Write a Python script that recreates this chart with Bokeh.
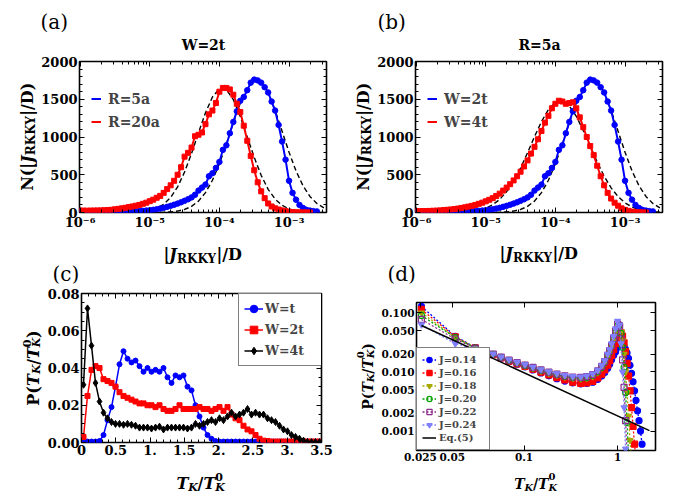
import math
from bokeh.plotting import figure
from bokeh.layouts import row, column
from bokeh.models import (FixedTicker, CustomJSTickFormatter, LinearAxis, LogAxis,
                          Label, Legend, LegendItem, Range1d)
from bokeh.embed import file_html
from bokeh.resources import INLINE

FONT = "DejaVu Serif"

# ---------------- data ----------------
JX = [10 ** (-6 + 0.05 * i) for i in range(71)]
FX = [10 ** (-6 + 0.1 * i) for i in range(36)]

N_R5A_W2T = [3, 3, 3, 3, 4, 4, 4, 5, 5, 6,
             7, 8, 9, 10, 12, 14, 16, 19, 22, 26,
             30, 36, 43, 52, 62, 75, 88, 103, 118, 135,
             155, 175, 200, 235, 290, 330, 370, 480, 520, 590,
             670, 830, 890, 1050, 1200, 1340, 1480, 1530, 1620, 1720,
             1760, 1750, 1720, 1660, 1590, 1470, 1350, 1160, 940, 700,
             420, 260, 170, 100, 60, 35, 25, 18, 14]
N_R20A = [25, 25, 24, 25, 26, 27, 28, 30, 33, 36,
          42, 48, 55, 62, 72, 80, 90, 100, 115, 130,
          150, 170, 195, 220, 260, 310, 360, 420, 500, 600,
          740, 790, 860, 1010, 1030, 1060, 1170, 1300, 1350, 1450,
          1600, 1650, 1650, 1630, 1560, 1440, 1330, 1150, 950, 750,
          560, 400, 280, 190, 120, 80, 55, 40, 28, 18,
          10, 5, 3, 2, 1, 1, 0]
N_W4T = [18, 18, 19, 20, 21, 23, 25, 28, 32, 36,
         40, 45, 52, 60, 68, 78, 88, 100, 115, 130,
         148, 168, 190, 218, 250, 290, 330, 375, 425, 480,
         540, 610, 690, 780, 870, 970, 1080, 1190, 1280, 1380,
         1440, 1480, 1470, 1440, 1450, 1460, 1380, 1260, 1130, 1000,
         880, 760, 620, 480, 360, 260, 185, 130, 90, 55,
         35, 22, 12, 6, 3, 1, 0]
FIT_BLUE = [0, 0, 0, 0, 0, 0, 0, 0, 0, 0.1,
            0.4, 1.2, 3.3, 8, 19, 40, 81, 151, 263, 427,
            645, 907, 1188, 1450, 1648, 1744, 1720, 1579, 1351, 1076,
            798, 551, 355, 213, 119, 62]
FIT_RED_A = [0, 0, 0, 0, 0, 0.2, 0.6, 1.6, 4.4, 11,
             25, 55, 108, 200, 340, 536, 782, 1057, 1321, 1530,
             1640, 1627, 1495, 1271, 1001, 730, 492, 307, 178, 95,
             47, 22, 9, 4, 1.3, 0.4]
FIT_RED_B = [0, 0, 0, 0, 0.5, 1.4, 3.2, 7.2, 15, 31,
             58, 103, 173, 276, 415, 589, 791, 1004, 1204, 1364,
             1460, 1476, 1411, 1274, 1087, 876, 668, 481, 327, 210,
             128, 73, 40, 20, 10, 4.5]

TK = [(k + 0.5) * 3.5 / 60 for k in range(60)]
P_WT = [0.0005, 0.0005, 0.0005, 0.0005, 0.0008, 0.004, 0.012, 0.019, 0.030, 0.042,
        0.049, 0.045, 0.043, 0.044, 0.041, 0.038, 0.040, 0.038, 0.039, 0.038,
        0.040, 0.035, 0.032, 0.036, 0.035, 0.036, 0.030, 0.028, 0.020, 0.014,
        0.008, 0.004, 0.002, 0.0008, 0.0005, 0.0005, 0.0005, 0.0005, 0.0005, 0.0005,
        0.0005, 0.0005, 0.0005, 0.0005, 0.0005, 0.0005, 0.0005, 0.0005, 0.0005, 0.0005,
        0.0005, 0.0005, 0.0005, 0.0005, 0.0005, 0.0005, 0.0005, 0.0005, 0.0005, 0.0005]
P_W2T = [0.003, 0.025, 0.039, 0.041, 0.040, 0.034, 0.033, 0.032, 0.030, 0.027,
         0.025, 0.024, 0.023, 0.022, 0.021, 0.021, 0.020, 0.020, 0.019, 0.020,
         0.018, 0.017, 0.017, 0.018, 0.020, 0.018, 0.018, 0.018, 0.018, 0.019,
         0.018, 0.018, 0.017, 0.018, 0.019, 0.017, 0.019, 0.015, 0.013, 0.012,
         0.009, 0.007, 0.006, 0.004, 0.002, 0.001, 0.0008, 0.0005, 0.0005, 0.0005,
         0.0005, 0.0005, 0.0005, 0.0005, 0.0005, 0.0005, 0.0005, 0.0005, 0.0005, 0.0005]
P_W4T = [0.031, 0.072, 0.052, 0.032, 0.022, 0.016, 0.013, 0.011, 0.010, 0.010,
         0.0095, 0.010, 0.0095, 0.009, 0.008, 0.008, 0.008, 0.0075, 0.008, 0.0085,
         0.007, 0.008, 0.008, 0.008, 0.008, 0.008, 0.0075, 0.008, 0.010, 0.009,
         0.010, 0.011, 0.012, 0.011, 0.013, 0.012, 0.014, 0.016, 0.014, 0.015,
         0.016, 0.018, 0.015, 0.016, 0.015, 0.015, 0.013, 0.012, 0.011, 0.009,
         0.007, 0.006, 0.004, 0.003, 0.002, 0.001, 0.0003, 0.0002, 0.0002, 0.0002]

# panel (d): x positions
DX = [0.00802, 0.01845, 0.0301, 0.0385, 0.0468, 0.0569, 0.0692, 0.0843, 0.1025, 0.1247,
      0.1517, 0.1845, 0.2244, 0.2729, 0.332, 0.404, 0.468, 0.542, 0.613, 0.676,
      0.728, 0.783, 0.822, 0.863, 0.907, 0.952, 1.0, 1.050, 1.089, 1.130,
      1.172, 1.216, 1.262, 1.309, 1.358, 1.409, 1.462, 1.516, 1.573, 1.632,
      1.694, 1.757, 1.823]
P_J14 = [0.128, 0.040, 0.0258, 0.0222, 0.0195, 0.0170, 0.0150, 0.0135, 0.0122, 0.0108,
         0.0096, 0.0086, 0.0077, 0.0070, 0.0065, 0.0063, 0.0064, 0.0067, 0.0075, 0.0085,
         0.0098, 0.0115, 0.0135, 0.016, 0.019, 0.022, 0.026, 0.029, 0.031, 0.030,
         0.027, 0.024, 0.021, 0.017, 0.013, 0.0095, 0.0068, 0.0048, 0.0033, 0.0022,
         0.0015, 0.0010, 0.0006]
P_J16 = [0.114, 0.039, 0.0256, 0.0222, 0.0196, 0.0172, 0.0152, 0.0137, 0.0124, 0.0111,
         0.0099, 0.0089, 0.0080, 0.0073, 0.0067, 0.0064, 0.0065, 0.0069, 0.0079, 0.0092,
         0.0108, 0.013, 0.0155, 0.019, 0.024, 0.030, 0.038, 0.045, 0.046, 0.040,
         0.031, 0.022, 0.014, 0.0085, 0.0048, 0.0025, 0.0012, 0.0006, 0.0003]
P_J18 = [0.100, 0.038, 0.0254, 0.0224, 0.0198, 0.0175, 0.0155, 0.0140, 0.0127, 0.0115,
         0.0104, 0.0095, 0.0088, 0.0082, 0.0078, 0.0077, 0.0078, 0.0084, 0.0098, 0.0117,
         0.014, 0.018, 0.021, 0.026, 0.033, 0.043, 0.055, 0.058, 0.048, 0.034,
         0.020, 0.010, 0.0045, 0.0018, 0.0007, 0.0003]
P_J20 = [0.090, 0.038, 0.0255, 0.0225, 0.0199, 0.0176, 0.0157, 0.0142, 0.0129, 0.0117,
         0.0106, 0.0097, 0.0090, 0.0084, 0.0080, 0.0079, 0.0080, 0.0087, 0.0101, 0.0120,
         0.0145, 0.0185, 0.022, 0.027, 0.035, 0.046, 0.060, 0.062, 0.045, 0.026,
         0.012, 0.0045, 0.0014, 0.0004]
P_J22 = [0.077, 0.036, 0.0252, 0.0226, 0.0201, 0.0178, 0.0159, 0.0144, 0.0131, 0.0119,
         0.0108, 0.0099, 0.0092, 0.0086, 0.0082, 0.0081, 0.0083, 0.0090, 0.0104, 0.0124,
         0.015, 0.019, 0.023, 0.028, 0.037, 0.049, 0.064, 0.060, 0.036, 0.016,
         0.0055, 0.0015, 0.0004]
P_J24 = [0.063, 0.030, 0.0245, 0.0226, 0.0203, 0.0180, 0.0161, 0.0146, 0.0133, 0.0121,
         0.0110, 0.0101, 0.0094, 0.0088, 0.0084, 0.0083, 0.0086, 0.0093, 0.0107, 0.0128,
         0.0155, 0.020, 0.024, 0.030, 0.040, 0.054, 0.072, 0.062, 0.030, 0.010,
         0.0025, 0.0005]
EQ5_X = [0.00802, 2.19]
EQ5_Y = [0.061, 0.00102]
D_TICKS = [0.00783, 0.01714, 0.1, 1]
D_TICK_LABELS = ["0.025", "0.05", "0.1", "1"]

# ---------------- helpers ----------------
EM = {'|': 0.365, '/': 0.365, '(': 0.472, ')': 0.472, '=': 0.838, '.': 0.38,
      'N': 0.903, 'D': 0.844, 'P': 0.76, 'R': 0.834, 'K': 0.841, 'Y': 0.76,
      'T': 0.742, 'J': 0.49, 'W': 1.138, 't': 0.502, 'a': 0.673}
GEOM = {}


def tw(text, size):
    return sum(EM.get(c, 0.696) for c in text) * size


def base_fig(w, h, bl, br, bt, bb, xr, yr, xt="linear", yt="linear"):
    p = figure(width=w, height=h, x_range=xr, y_range=yr, x_axis_type=xt, y_axis_type=yt,
               output_backend="svg", toolbar_location=None, title=None, frame_align=False,
               min_border_left=bl, min_border_right=br, min_border_top=bt, min_border_bottom=bb)
    p.grid.visible = False
    p.outline_line_color = "black"
    p.outline_line_width = 1.6
    p.background_fill_color = "white"
    p.border_fill_color = "white"
    GEOM[id(p)] = (bl, bt, h - bt - bb)
    return p


def text_fig(w, h):
    p = figure(width=w, height=h, x_range=Range1d(0, w), y_range=Range1d(0, h),
               x_axis_location=None, y_axis_location=None, output_backend="svg",
               toolbar_location=None, title=None, frame_align=False, min_border=1,
               min_border_left=1, min_border_right=1, min_border_top=1, min_border_bottom=1)
    p.grid.visible = False
    p.outline_line_color = None
    p.background_fill_color = "white"
    p.border_fill_color = "white"
    GEOM[id(p)] = (1, 1, h - 2)
    return p


def setup_axes(p, xt, yt, xf, yf, fs, xlog, ylog):
    bx, ly = p.xaxis[0], p.yaxis[0]
    bx.ticker, bx.formatter = xt, xf
    ly.ticker, ly.formatter = yt, yf
    blank = CustomJSTickFormatter(code="return '';")
    top = (LogAxis if xlog else LinearAxis)(ticker=xt, formatter=blank)
    right = (LogAxis if ylog else LinearAxis)(ticker=yt, formatter=blank)
    p.add_layout(top, "above")
    p.add_layout(right, "right")
    for ax in (bx, ly, top, right):
        ax.axis_line_color = None
        ax.major_tick_in, ax.major_tick_out = 5, 0
        ax.minor_tick_in, ax.minor_tick_out = 3, 0
        ax.major_tick_line_color = "black"
        ax.minor_tick_line_color = "black"
        ax.major_label_text_font = FONT
        ax.major_label_text_font_style = "bold"
        ax.major_label_text_font_size = f"{fs}px"
        ax.major_label_text_color = "black"
        ax.major_label_standoff = 2
    for ax in (top, right):
        ax.major_label_text_font_size = "1px"
        ax.major_label_standoff = 0


def label(p, cx, cy, text, size, style="bold", align="left", angle=0.0):
    bl, bt, fh = GEOM[id(p)]
    p.add_layout(Label(x=cx - bl, y=bt + fh - cy, x_units="screen", y_units="screen",
                       text=text, text_font=FONT, text_font_style=style,
                       text_font_size=f"{size}px", text_align=align,
                       text_baseline="alphabetic", angle=angle, text_color="black"))


def rich(p, cx, cy, pieces, angle=0.0):
    total = sum(tw(t, s) for t, s, it, dy, adv in pieces if adv)
    pos = -total / 2
    for t, s, it, dy, adv in pieces:
        if angle == 0:
            x, y = cx + pos, cy + dy
        else:
            x, y = cx + dy, cy - pos
        label(p, x, y, t, s, "bold italic" if it else "bold", angle=angle)
        if adv:
            pos += tw(t, s)


def jlabel(main, sub, outer_l, outer_r, dsub=4):
    return [(outer_l, main, False, 0, True), ("J", main, True, 0, True),
            ("RKKY", sub, False, dsub, True), (outer_r, main, False, 0, True)]


def tlabel(main, sub, pre, post, dsub=4):
    pcs = []
    if pre:
        pcs.append((pre, main, False, 0, True))
    pcs += [("T", main, True, 0, True), ("K", sub, True, dsub, True), ("/", main, False, 0, True),
            ("T", main, True, 0, True), ("0", sub, False, -7, False), ("K", sub, True, dsub, True)]
    if post:
        pcs.append((post, main, False, 0, True))
    return pcs


SUP = ("const m={'-':'\\u207b','0':'\\u2070','1':'\\u00b9','2':'\\u00b2','3':'\\u00b3',"
       "'4':'\\u2074','5':'\\u2075','6':'\\u2076','7':'\\u2077','8':'\\u2078','9':'\\u2079'};"
       "const e=Math.round(Math.log10(tick));"
       "return '10'+String(e).split('').map(c=>m[c]).join('');")

BLUE, RED = "#0000ff", "#ff0000"


def panel_j(w, br, blue_y, red_y, fit_red, leg_labels):
    p = base_fig(w, 185, 40, br, 8, 26, Range1d(0.98e-6, 3.45e-3), Range1d(0, 2000), xt="log")
    minor_x = [m * 10 ** e for e in (-6, -5, -4, -3) for m in range(2, 10) if m * 10 ** e < 3.4e-3]
    xt = FixedTicker(ticks=[1e-6, 1e-5, 1e-4, 1e-3], minor_ticks=minor_x)
    yt = FixedTicker(ticks=[0, 500, 1000, 1500, 2000],
                     minor_ticks=[v for v in range(100, 2000, 100) if v % 500])
    setup_axes(p, xt, yt, CustomJSTickFormatter(code=SUP),
               CustomJSTickFormatter(code="return String(tick);"), 13, True, False)
    p.line(FX, FIT_BLUE, color="black", line_width=1.4, line_dash="5 3")
    p.line(FX, fit_red, color="black", line_width=1.4, line_dash="5 3")
    bx = JX[:len(blue_y)]
    rx = JX[:len(red_y)]
    lb = p.line(bx, blue_y, color=BLUE, line_width=2)
    p.scatter(bx, blue_y, marker="circle", size=5.5, color=BLUE)
    lr = p.line(rx, red_y, color=RED, line_width=2)
    p.scatter(rx, red_y, marker="square", size=5, color=RED)
    leg = Legend(items=[LegendItem(label=leg_labels[0], renderers=[lb]),
                        LegendItem(label=leg_labels[1], renderers=[lr])],
                 location=(12, 82), border_line_color=None, background_fill_alpha=0,
                 label_text_font=FONT, label_text_font_style="bold", label_text_font_size="14px",
                 glyph_width=10, glyph_height=17, label_height=17, spacing=6, padding=0,
                 margin=0, label_standoff=7)
    p.add_layout(leg)
    return p


# ---- top strip: panel letters and titles ----
s1 = text_fig(688, 53)
label(s1, 40, 21, "(a)", 20, style="normal")
label(s1, 203, 44, "W=2t", 14, align="center")
label(s1, 377, 21, "(b)", 20, style="normal")
label(s1, 539, 44, "R=5a", 14, align="center")

# ---- (a), (b) ----
pa = panel_j(306, 18, N_R5A_W2T, N_R20A, FIT_RED_A, ("R=5a", "R=20a"))
pb = panel_j(314, 26, N_R5A_W2T, N_W4T, FIT_RED_B, ("W=2t", "W=4t"))
ya = text_fig(38, 185)
rich(ya, 27, 83.5, jlabel(16, 12, "N(|", "|/D)", 3), angle=math.pi / 2)
yb = text_fig(30, 185)
rich(yb, 19, 83.5, jlabel(16, 12, "N(|", "|/D)", 3), angle=math.pi / 2)

# ---- middle strip: x labels of (a),(b) and letters (c),(d) ----
s3 = text_fig(688, 46)
rich(s3, 202, 16, jlabel(16, 12, "|", "|/D"))
rich(s3, 538, 15, jlabel(16, 12, "|", "|/D"))
label(s3, 52, 35, "(c)", 20, style="normal")
label(s3, 387, 35, "(d)", 20, style="normal")

# ---- (c) ----
pc = base_fig(300, 184, 35, 23, 9, 26, Range1d(0, 3.5), Range1d(0, 0.08))
xt = FixedTicker(ticks=[0, 0.5, 1, 1.5, 2, 2.5, 3, 3.5],
                 minor_ticks=[round(0.1 * i, 1) for i in range(1, 35) if i % 5])
yt = FixedTicker(ticks=[0, 0.02, 0.04, 0.06, 0.08],
                 minor_ticks=[0.005, 0.01, 0.015, 0.025, 0.03, 0.035, 0.045, 0.05, 0.055,
                              0.065, 0.07, 0.075])
setup_axes(pc, xt, yt,
           CustomJSTickFormatter(code="if (tick===0) return '0'; return Number.isInteger(tick) ? tick + '.' : String(tick);"),
           CustomJSTickFormatter(code="return tick.toFixed(2);"), 13, False, False)
c_items = []
for ys, col, mk, sz, lab in ((P_WT, BLUE, "circle", 5, "W=t"), (P_W2T, RED, "square", 5, "W=2t"),
                              (P_W4T, "black", "diamond", 7, "W=4t")):
    l = pc.line(TK, ys, color=col, line_width=1.5)
    s = pc.scatter(TK, ys, marker=mk, size=sz, color=col)
    c_items.append(LegendItem(label=lab, renderers=[l, s]))
legc = Legend(items=c_items, location=(157, 76), border_line_color="black", border_line_width=1,
              background_fill_color="white", background_fill_alpha=1,
              label_text_font=FONT, label_text_font_style="bold", label_text_font_size="12.5px",
              glyph_width=19, glyph_height=19, label_height=19, label_width=51, spacing=2,
              padding=5, margin=0, label_standoff=2)
pc.add_layout(legc)
yc = text_fig(44, 184)
rich(yc, 33, 83.5, tlabel(16, 11, "P(", ")", 3), angle=math.pi / 2)

# ---- (d) ----
pd_ = base_fig(310, 184, 37, 33, 18, 18, Range1d(0.0071, 2.54), Range1d(0.00047, 0.149),
               xt="log", yt="log")
xt = FixedTicker(ticks=D_TICKS, minor_ticks=[])
yt = FixedTicker(ticks=[0.001, 0.002, 0.005, 0.01, 0.02, 0.05, 0.1], minor_ticks=[])
xlab_code = ("const t=%s; const l=%s; let b=0; for (let i=0;i<t.length;i++){"
             "if (Math.abs(Math.log(tick/t[i])) < Math.abs(Math.log(tick/t[b]))) b=i;} return l[b];"
             % (D_TICKS, D_TICK_LABELS))
setup_axes(pd_, xt, yt, CustomJSTickFormatter(code=xlab_code),
           CustomJSTickFormatter(code="return tick.toFixed(3);"), 10.5, True, True)
d_items = []
specs = ((P_J14, "#0000ff", "circle", True, "J=0.14"),
         (P_J16, "#ff0000", "square", True, "J=0.16"),
         (P_J18, "#a8a800", "inverted_triangle", True, "J=0.18"),
         (P_J20, "#00a000", "circle", False, "J=0.20"),
         (P_J22, "#8b2a8b", "square", False, "J=0.22"),
         (P_J24, "#7f7fff", "inverted_triangle", True, "J=0.24"))
for ys, col, mk, filled, lab in specs:
    xs = DX[:len(ys)]
    l = pd_.line(xs, ys, color=col, line_width=1.3, line_dash="2 2")
    s = pd_.scatter(xs, ys, marker=mk, size=6, line_color=col, line_width=1.2,
                    fill_color=col if filled else None)
    d_items.append(LegendItem(label=lab, renderers=[l, s]))
le = pd_.line(EQ5_X, EQ5_Y, color="black", line_width=1.5)
d_items.append(LegendItem(label="Eq.(5)", renderers=[le]))
legd = Legend(items=d_items, location=(0, 0), border_line_color="black", border_line_width=1,
              background_fill_color="white", background_fill_alpha=1,
              label_text_font=FONT, label_text_font_style="bold", label_text_font_size="10px",
              glyph_width=14, glyph_height=13, label_height=13, label_width=45, spacing=0,
              padding=5, margin=0, label_standoff=3)
pd_.add_layout(legd)
yd = text_fig(34, 184)
rich(yd, 23, 92, tlabel(14, 10, "P(", ")", 3), angle=math.pi / 2)

# ---- bottom strip: x labels of (c),(d) ----
s5 = text_fig(688, 30)
rich(s5, 200, 15, tlabel(16, 11, "", ""))
rich(s5, 535, 15, tlabel(14, 10, "", ""))

layout = column(s1, row(ya, pa, yb, pb), s3, row(yc, pc, yd, pd_), s5)
with open("out.html", "w", encoding="utf-8") as f:
    f.write(file_html(layout, INLINE))
